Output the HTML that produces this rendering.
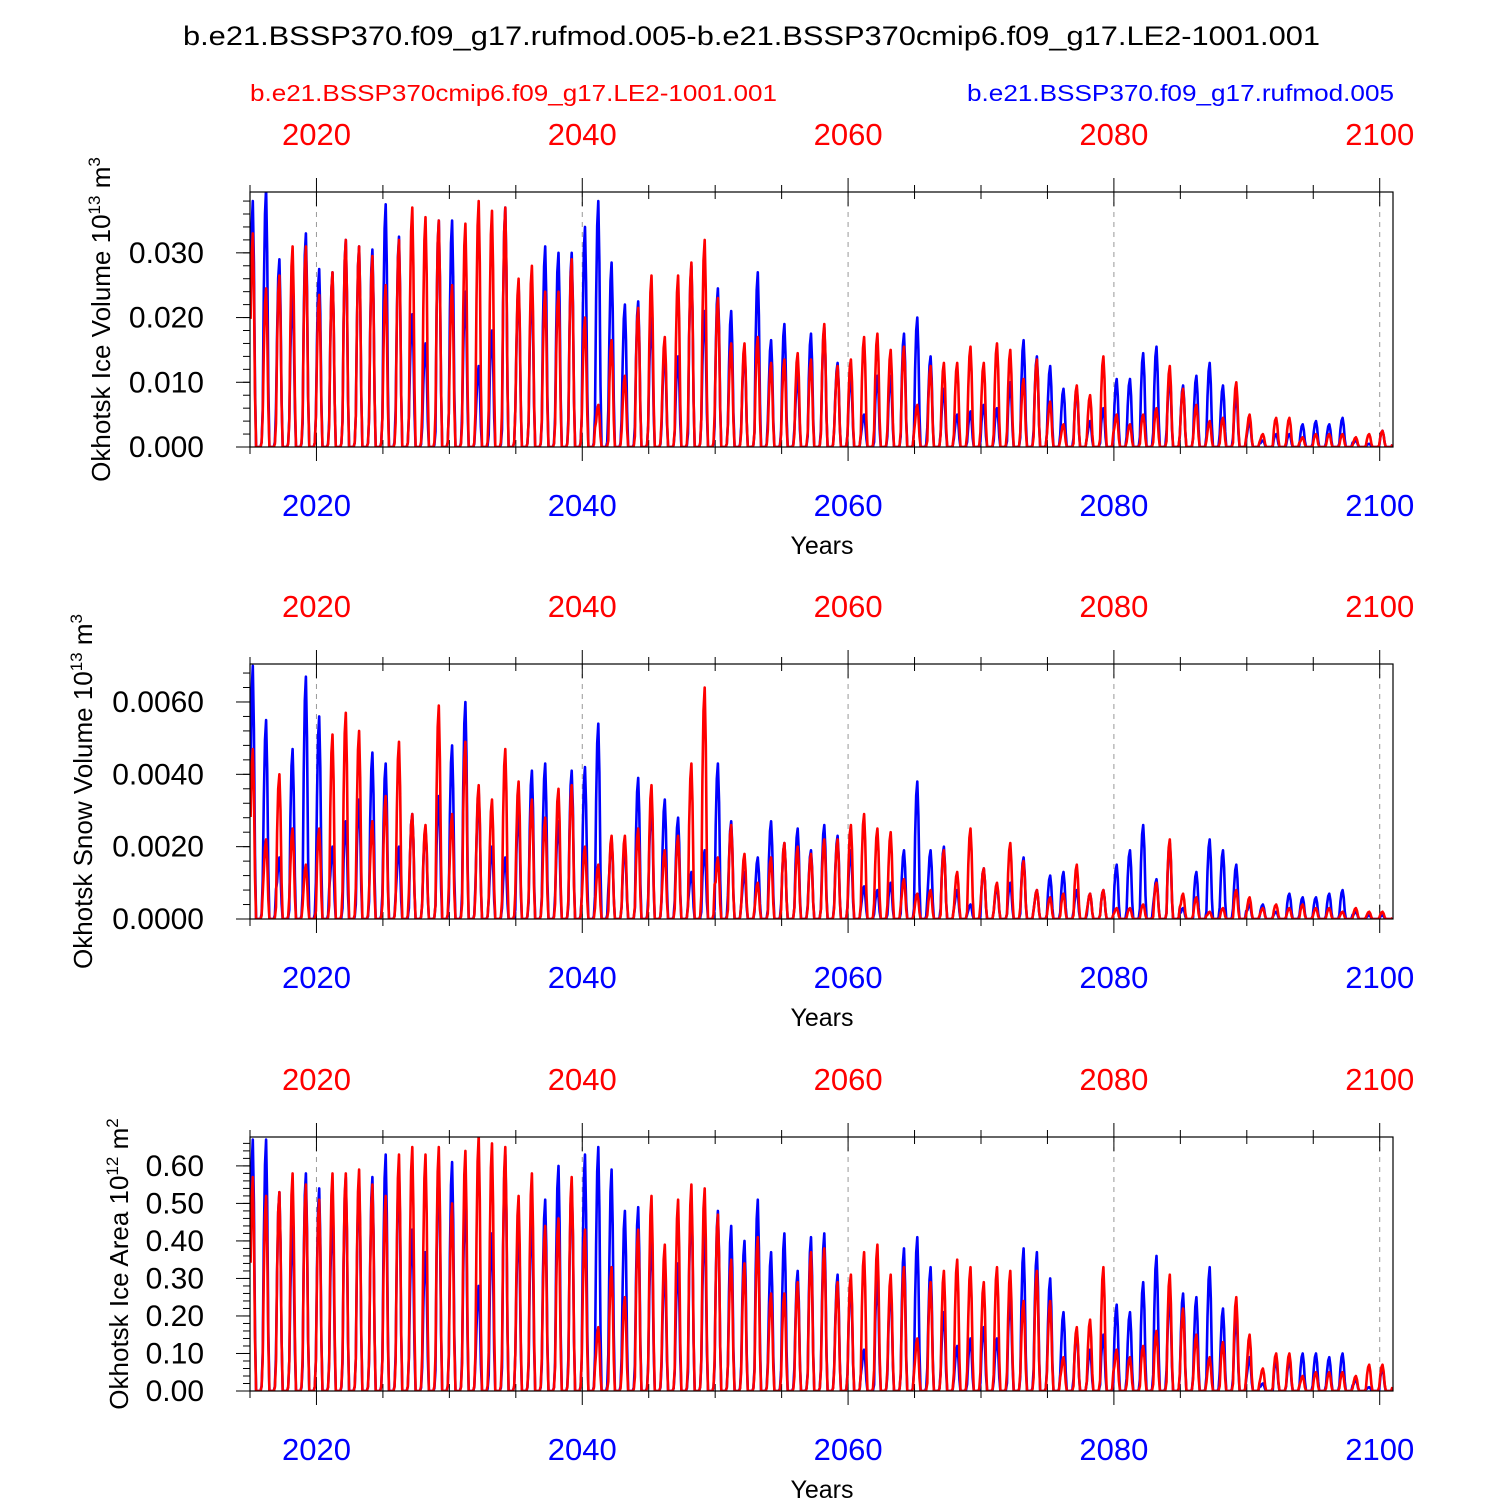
<!DOCTYPE html>
<html><head><meta charset="utf-8"><style>
html,body{margin:0;padding:0;background:#fff}
svg text{font-family:"Liberation Sans",sans-serif}
</style></head><body>
<svg id="c" width="1500" height="1500" xmlns="http://www.w3.org/2000/svg">
<text x="183" y="45" font-size="27" textLength="1137" lengthAdjust="spacingAndGlyphs">b.e21.BSSP370.f09_g17.rufmod.005-b.e21.BSSP370cmip6.f09_g17.LE2-1001.001</text>
<text x="250" y="101" font-size="23" fill="#f00" textLength="527" lengthAdjust="spacingAndGlyphs">b.e21.BSSP370cmip6.f09_g17.LE2-1001.001</text>
<text x="967" y="101" font-size="23" fill="#00f" textLength="427" lengthAdjust="spacingAndGlyphs">b.e21.BSSP370.f09_g17.rufmod.005</text>
</svg>
<script>
const years=[];for(let y=2015;y<=2100;y++)years.push(y);
const seasonProfile=[0.6,0.9,1,0.75,0.25,0,0,0,0,0,0.02,0.15];
const iceVolBlue=[38,40,29,24,33,27.5,27,32,31,30.5,37.5,32.5,20.5,16,35,35,24,12.5,18,37,25,25,31,30,30,34,38,28.5,22,22.5,20,15,14,28,21,24.5,21,15,27,16.5,19,11,17.5,18.5,13,11,5,11,11,17.5,20,14,9,5,5.5,6.5,6,10,16.5,14,12.5,9,9,4,6,10.5,10.5,14.5,15.5,11,9.5,11,13,9.5,8,4,1,2,2,3.5,4,3.5,4.5,1,0.5,2.5];
const iceVolRed=[33,24.5,26.5,31,31,23.5,27,32,31,29.5,25,32,37,35.5,35,25,34.5,38,36.5,37,26,28,24,24,29,20,6.5,16.5,11,21.5,26.5,17,26.5,28.5,32,23,16,16,17,13,13.5,14.5,13.5,19,12.5,13.5,17,17.5,15,15.5,6.5,12.5,13,13,15.5,13,16,15,10.5,13.5,7,3.5,9.5,8,14,5,3.5,5,6,12.5,9,6.5,4,4.5,10,5,2,4.5,4.5,1.5,2,2,2,1.5,2,2.5];
const snowBlue=[70,55,17,47,67,56,20,27,33,46,43,20,29,25,34,48,60,35,20,17,30,41,43,27,41,42,54,22,20,39,32,33,28,13,19,43,27,13,17,27,21,25,19,26,23,19,9,8,10,19,38,19,20,8,4,14,9,10,17,8,12,13,8,7,8,15,19,26,11,21,3,13,22,19,15,4,4,2,7,6,6,7,8,2,1,1];
const snowRed=[47,22,40,25,15,25,51,57,52,27,34,49,29,26,59,29,49,37,33,47,38,33,28,36,37,20,15,23,23,25,37,19,23,43,64,17,26,18,10,17,21,20,18,22,22,26,29,25,24,11,7,8,19,13,25,14,10,21,16,8,6,7,15,7,8,3,3,4,10,22,7,6,2,3,8,6,3,4,3,4,3,3,2,3,2,2];
const areaBlue=[67,67,53,44,58,54,48,57,56,57,63,59,43,37,60,61,52,28,42,63,45,47,51,60,55,63,65,59,48,49,42,33,34,51,44,48,44,40,51,37,42,32,41,42,31,29,11,30,28,38,41,33,21,12,14,17,14,25,38,37,30,21,16,11,15,23,21,29,36,26,26,25,33,22,20,9,2,8,8,10,10,9,10,3,1,6];
const areaRed=[57,52,53,58,55,51,58,58,59,55,52,63,65,63,65,50,64,68,66,65,52,58,44,46,57,43,17,33,25,43,52,39,51,55,54,47,35,34,41,26,26,29,37,38,29,31,37,39,31,33,14,29,32,35,33,29,33,32,24,32,24,9,17,19,33,11,9,12,16,31,22,15,9,13,25,15,6,10,10,4,5,5,5,4,7,7];
const majorTicks=["2020","2040","2060","2080","2100"];
const panels=[
 {top:192,bot:447,max:0.0394,scale:0.001,b:iceVolBlue,r:iceVolRed,ticks:["0.000","0.010","0.020","0.030"],minor:0.002,ylab:"Okhotsk Ice Volume 10",sup:"13",unit:" m",usup:"3",ylx:110,name:"ice-volume"},
 {top:664,bot:919,max:0.00705,scale:0.0001,b:snowBlue,r:snowRed,ticks:["0.0000","0.0020","0.0040","0.0060"],minor:0.0004,ylab:"Okhotsk Snow Volume 10",sup:"13",unit:" m",usup:"3",ylx:92,name:"snow-volume"},
 {top:1137,bot:1391,max:0.677,scale:0.01,b:areaBlue,r:areaRed,ticks:["0.00","0.10","0.20","0.30","0.40","0.50","0.60"],minor:0.02,ylab:"Okhotsk Ice Area 10",sup:"12",unit:" m",usup:"2",ylx:128,name:"ice-area"}
];
const NS="http://www.w3.org/2000/svg",svg=document.getElementById('c');
const X0=250,X1=1393,xmin=2015,xmax=2101;
const xs=v=>X0+(v-xmin)/(xmax-xmin)*(X1-X0);
function mk(t,a,p){const e=document.createElementNS(NS,t);for(const k in a)e.setAttribute(k,a[k]);(p||svg).appendChild(e);return e;}
panels.forEach(P=>{
 const ys=v=>P.bot-v/P.max*(P.bot-P.top);
 const g=mk('g',{});
 
 
 majorTicks.forEach(t=>{const x=xs(+t);
  const l=mk('line',{x1:x,x2:x,y1:P.top,y2:P.bot,stroke:'#999','stroke-dasharray':'5,5','stroke-width':1},g);
  
  
  const tt=mk('text',{x:x,y:P.top-47,'font-size':31,'text-anchor':'middle',fill:'#f00'},g);tt.textContent=t;
  
  
  const tb=mk('text',{x:x,y:P.bot+69,'font-size':31,'text-anchor':'middle',fill:'#00f'},g);tb.textContent=t;
  
  
 });
 for(let yr=2015;yr<=2100;yr+=5){const x=xs(yr),mj=yr%20==0,L=mj?14:7;
  mk('line',{x1:x,x2:x,y1:P.top,y2:P.top+L,stroke:'#000','stroke-width':1},g);
  mk('line',{x1:x,x2:x,y1:P.bot,y2:P.bot-L,stroke:'#000','stroke-width':1},g);
  mk('line',{x1:x,x2:x,y1:P.top,y2:P.top-L,stroke:'#000','stroke-width':1},g);
  mk('line',{x1:x,x2:x,y1:P.bot,y2:P.bot+L,stroke:'#000','stroke-width':1},g);}
 for(let v=0;v<=P.max+1e-12;v+=P.minor){const y=ys(v);mk('line',{x1:X0-7,x2:X0,y1:y,y2:y,stroke:'#000','stroke-width':1},g);}
 P.ticks.forEach(t=>{const y=ys(+t);mk('line',{x1:X0-14,x2:X0,y1:y,y2:y,stroke:'#000','stroke-width':1},g);
  const e=mk('text',{x:X0-46,y:y+10,'font-size':30,'text-anchor':'end'},g);e.textContent=t;
  
  });
 const cp='clip-'+P.name;const cl=mk('clipPath',{id:cp},g);mk('rect',{x:X0,y:P.top,width:X1-X0,height:P.bot-P.top},cl);
 [[P.b,'#00f','blue'],[P.r,'#f00','red']].forEach(([arr,col,nm])=>{
  let d='';arr.forEach((pk,i)=>{seasonProfile.forEach((f,m)=>{const x=xs(years[i]+(m+0.5)/12),y=ys(pk*f*P.scale);d+=(d?'L':'M')+x.toFixed(1)+','+y.toFixed(1);});});
  const p=mk('path',{d:d,fill:'none',stroke:col,'stroke-width':2.6,'stroke-linejoin':'round','clip-path':'url(#'+cp+')'},g);
  
  });
 mk('rect',{x:X0,y:P.top,width:X1-X0,height:P.bot-P.top,fill:'none',stroke:'#000','stroke-width':1.2},g);
 const xl=mk('text',{x:822,y:P.bot+107,'font-size':25,'text-anchor':'middle'},g);xl.textContent='Years';
 
 
 const cy=(P.top+P.bot)/2;
 const yl=mk('text',{x:P.ylx,y:cy,'font-size':26,'text-anchor':'middle',transform:'rotate(-90 '+P.ylx+' '+cy+')'},g);
 
 
 yl.innerHTML=P.ylab+'<tspan dy="-10" font-size="17">'+P.sup+'</tspan><tspan dy="10">'+P.unit+'</tspan><tspan dy="-10" font-size="17">'+P.usup+'</tspan>';
});
</script>
</body></html>
